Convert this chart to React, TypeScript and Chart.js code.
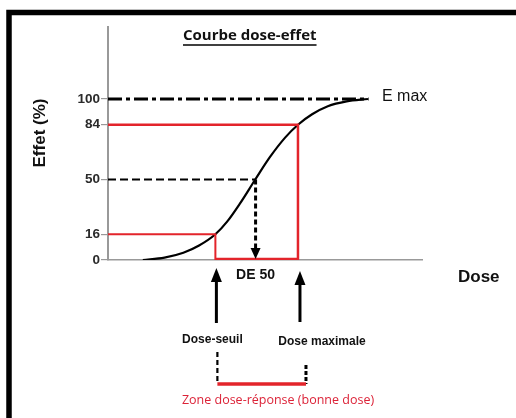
import React, { useEffect, useRef } from "react";
import { Chart, registerables } from "chart.js";

Chart.register(...registerables);

// ---- data ----
const doseValues = [11.1, 18, 24, 29, 34.2, 38, 42, 46.9, 51.6, 56.4, 60.5, 65, 70, 76, 82.8];
const effectValues = [0, 1.5, 4.5, 9, 16, 24, 35, 50, 64, 76, 84, 90.5, 95.5, 98.5, 100];
const yTickValues = [0, 16, 50, 84, 100];
const doseSeuil = 34.2;
const de50 = 47.0;
const doseMaximale = 60.5;
const eMaxEndDose = 83;
const effetSeuil = 16;
const effet50 = 50;
const effetMaxi = 84;
const eMax = 100;
const xRange = [0, 100];
const yRange = [0, 144.7];

const RED = "#e3242b";

function upArrow(ctx: CanvasRenderingContext2D, x: number, tipY: number, baseY: number, endY: number) {
  ctx.save();
  ctx.strokeStyle = "#000";
  ctx.fillStyle = "#000";
  ctx.lineWidth = 3;
  ctx.setLineDash([]);
  ctx.beginPath();
  ctx.moveTo(x, baseY);
  ctx.lineTo(x, endY);
  ctx.stroke();
  ctx.beginPath();
  ctx.moveTo(x, tipY);
  ctx.lineTo(x - 5.5, baseY + 1);
  ctx.lineTo(x + 5.5, baseY + 1);
  ctx.closePath();
  ctx.fill();
  ctx.restore();
}

const annotations = {
  id: "annotations",
  afterDraw(chart: any) {
    const ctx: CanvasRenderingContext2D = chart.ctx;
    const xs = chart.scales.x;
    const ys = chart.scales.y;
    const px = (v: number) => xs.getPixelForValue(v);
    const py = (v: number) => ys.getPixelForValue(v);
    ctx.save();

    // frame
    ctx.strokeStyle = "#000";
    ctx.lineWidth = 5.5;
    ctx.lineJoin = "miter";
    ctx.beginPath();
    ctx.moveTo(9, 418);
    ctx.lineTo(9, 12.5);
    ctx.lineTo(516, 12.5);
    ctx.stroke();

    // title
    ctx.fillStyle = "#111";
    ctx.font = "bold 15px 'Open Sans'";
    ctx.textBaseline = "middle";
    ctx.textAlign = "left";
    const title = "Courbe dose-effet";
    const tw = ctx.measureText(title).width;
    ctx.fillText(title, 183, 36);
    ctx.lineWidth = 1.3;
    ctx.beginPath();
    ctx.moveTo(183, 45);
    ctx.lineTo(183 + tw, 45);
    ctx.stroke();

    // E max
    ctx.font = "500 16px 'Liberation Sans', Arial";
    ctx.fillStyle = "#111";
    ctx.fillText("E max", 382, py(eMax) - 2);

    // Dose axis label
    ctx.font = "bold 17px 'Liberation Sans', Arial";
    ctx.fillText("Dose", 458, 277);

    // Effet (%)
    ctx.save();
    ctx.translate(40, 133);
    ctx.rotate(-Math.PI / 2);
    ctx.textAlign = "center";
    ctx.font = "bold 17px 'Liberation Sans', Arial";
    ctx.fillText("Effet (%)", 0, 0);
    ctx.restore();

    // DE50 arrowhead
    const x50 = px(de50);
    const y0 = py(0);
    ctx.beginPath();
    ctx.moveTo(x50, y0 - 1);
    ctx.lineTo(x50 - 5, y0 - 12);
    ctx.lineTo(x50 + 5, y0 - 12);
    ctx.closePath();
    ctx.fillStyle = "#000";
    ctx.fill();

    // DE 50 label
    ctx.textAlign = "center";
    ctx.font = "bold 14px 'Liberation Sans', Arial";
    ctx.fillStyle = "#111";
    ctx.fillText("DE 50", x50, 275);

    // arrows
    const xS = px(doseSeuil);
    const xM = px(doseMaximale);
    upArrow(ctx, xS + 1, 268, 281, 323);
    upArrow(ctx, xM + 2, 271, 284, 322);

    ctx.font = "bold 12px 'Liberation Sans', Arial";
    ctx.fillStyle = "#111";
    ctx.fillText("Dose-seuil", xS - 3, 340);
    ctx.fillText("Dose maximale", xM + 24, 342);

    // dose-response zone bracket
    ctx.strokeStyle = "#000";
    ctx.lineWidth = 2.2;
    ctx.setLineDash([5, 3]);
    ctx.beginPath();
    ctx.moveTo(xS + 2, 352);
    ctx.lineTo(xS + 2, 384);
    ctx.stroke();
    ctx.lineWidth = 3;
    ctx.setLineDash([4, 2]);
    ctx.beginPath();
    ctx.moveTo(xM + 8, 365);
    ctx.lineTo(xM + 8, 384);
    ctx.stroke();
    ctx.setLineDash([]);
    ctx.strokeStyle = RED;
    ctx.lineWidth = 3.5;
    ctx.beginPath();
    ctx.moveTo(xS + 2, 384);
    ctx.lineTo(xM + 8, 384);
    ctx.stroke();

    ctx.font = "12.5px 'Open Sans'";
    ctx.fillStyle = "#dc2338";
    ctx.fillText("Zone dose-réponse (bonne dose)", 278, 400);

    ctx.restore();
  },
};

export default function App() {
  const ref = useRef<HTMLCanvasElement | null>(null);
  useEffect(() => {
    if (!ref.current) return;
    const curve = doseValues.map((d, i) => ({ x: d, y: effectValues[i] }));
    const chart = new Chart(ref.current, {
      type: "line",
      data: {
        datasets: [
          {
            label: "E max",
            data: [
              { x: xRange[0], y: eMax },
              { x: eMaxEndDose, y: eMax },
            ],
            borderColor: "#000",
            borderWidth: 3,
            borderDash: [14, 4, 4, 4],
            pointRadius: 0,
          },
          {
            label: "84",
            data: [
              { x: xRange[0], y: effetMaxi },
              { x: doseMaximale, y: effetMaxi },
              { x: doseMaximale, y: 0 },
            ],
            borderColor: RED,
            borderWidth: 2.5,
            pointRadius: 0,
            tension: 0,
          },
          {
            label: "16",
            data: [
              { x: xRange[0], y: effetSeuil },
              { x: doseSeuil, y: effetSeuil },
              { x: doseSeuil, y: 0 },
            ],
            borderColor: RED,
            borderWidth: 2,
            pointRadius: 0,
            tension: 0,
          },
          {
            label: "50",
            data: [
              { x: xRange[0], y: effet50 },
              { x: de50, y: effet50 },
            ],
            borderColor: "#000",
            borderWidth: 2,
            borderDash: [8, 4],
            pointRadius: 0,
          },
          {
            label: "DE50",
            data: [
              { x: de50, y: effet50 },
              { x: de50, y: 6 },
            ],
            borderColor: "#000",
            borderWidth: 3,
            borderDash: [5, 3],
            pointRadius: 0,
          },
          {
            label: "zone",
            data: [
              { x: doseSeuil, y: 0 },
              { x: doseMaximale, y: 0 },
            ],
            borderColor: RED,
            borderWidth: 4.5,
            pointRadius: 0,
          },
          {
            label: "courbe",
            data: curve,
            borderColor: "#000",
            borderWidth: 2.2,
            pointRadius: 0,
            cubicInterpolationMode: "monotone",
          },
        ],
      },
      options: {
        animation: false,
        responsive: false,
        events: [],
        layout: { padding: { left: 0, top: 27, right: 94, bottom: 0 } },
        plugins: { legend: { display: false }, tooltip: { enabled: false }, title: { display: false } },
        scales: {
          x: {
            type: "linear",
            min: xRange[0],
            max: xRange[1],
            ticks: { display: false },
            grid: { display: true, drawOnChartArea: false, drawTicks: false },
            border: { display: true, color: "#999", width: 1.5 },
            afterFit: (s: any) => {
              s.height = 158;
            },
          },
          y: {
            type: "linear",
            min: yRange[0],
            max: yRange[1],
            afterBuildTicks: (s: any) => {
              s.ticks = yTickValues.map((v) => ({ value: v }));
            },
            ticks: {
              padding: 1,
              color: "#2a2a2a",
              font: { family: "'Liberation Sans', Arial", size: 13.5, weight: "bold" },
            },
            grid: { drawOnChartArea: false, drawTicks: true, tickLength: 7, color: "#999", lineWidth: 1.2 },
            border: { display: true, color: "#999", width: 2 },
            afterFit: (s: any) => {
              s.width = 108;
            },
          },
        },
      },
      plugins: [annotations],
    });
    return () => chart.destroy();
  }, []);
  return (
    <div style={{ position: "fixed", left: 0, top: 0, width: 516, height: 418, background: "#fff" }}>
      <canvas ref={ref} width={516} height={418} style={{ display: "block" }} />
    </div>
  );
}
